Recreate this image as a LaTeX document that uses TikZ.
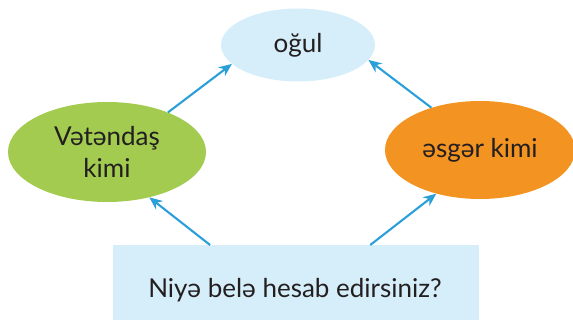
\documentclass[tikz,border=0pt]{standalone}
\usepackage{fontspec}
\setmainfont{Lato}
\usetikzlibrary{shapes.geometric,arrows.meta,calc}
\definecolor{arrowblue}{HTML}{2A9FD8}
\definecolor{lightblue}{HTML}{D6EEF9}
\definecolor{leafgreen}{HTML}{A2CB50}
\definecolor{orangefill}{HTML}{F39322}
\definecolor{textdark}{HTML}{231F20}
\tikzset{
  lbl/.style={text=textdark, font=\fontsize{26}{32}\selectfont},
  bubble/.style={ellipse, inner sep=0pt, lbl, align=center},
  link/.style={draw=arrowblue, line width=2.1pt, -{Stealth[length=13pt,width=11pt]}},
}
\begin{document}
\begin{tikzpicture}[x=1pt,y=-1pt]
\useasboundingbox (0,0) rectangle (573,320);
\node[bubble, fill=lightblue, minimum width=154pt, minimum height=73pt] (ogul) at (298,45) {oğul};
\node[bubble, fill=leafgreen, minimum width=198pt, minimum height=100pt] (vet) at (107,152) {Vətəndaş\\kimi};
\node[bubble, fill=orangefill, minimum width=190pt, minimum height=98pt] (esg) at (480,150) {əsgər kimi};
\node[fill=lightblue, minimum width=366pt, minimum height=80pt, inner sep=0pt, anchor=north west] (box) at (113,245) {};
\node[lbl, inner sep=0pt] (q) at (295,290) {Niyə belə hesab edirsiniz?};
\coordinate (b1) at ($(box.north west)!0.265!(box.north east)$);
\coordinate (b2) at ($(box.north west)!0.702!(box.north east)$);
\draw[link] (b1) -- (vet.-47);
\draw[link] (b2) -- (esg.-135);
\draw[link] (vet.33) -- (ogul.-164);
\draw[link] (esg.139) -- (ogul.-12);
\end{tikzpicture}
\end{document}
